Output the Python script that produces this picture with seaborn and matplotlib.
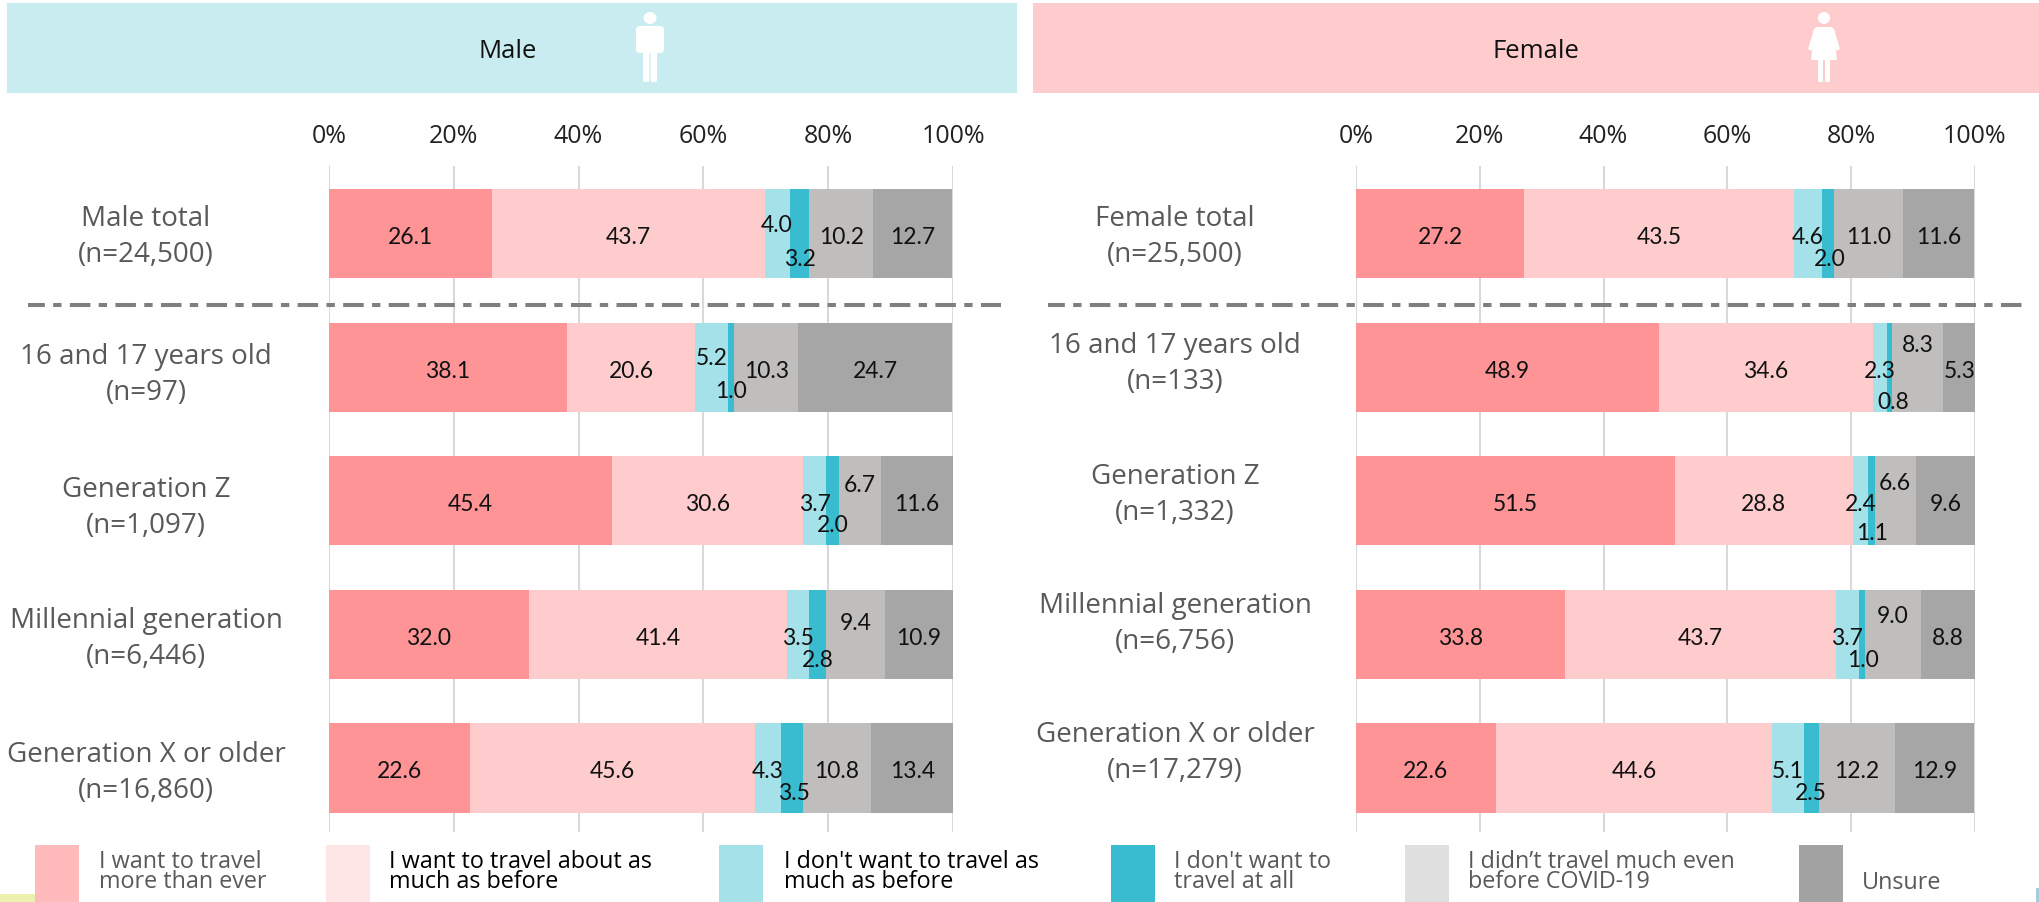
import numpy as np
import pandas as pd
import matplotlib
matplotlib.use("Agg")
import matplotlib.pyplot as plt
import seaborn as sns
from matplotlib.patches import Rectangle, Ellipse, FancyBboxPatch

W, H = 2039, 902

answers = ["I want to travel\nmore than ever", "I want to travel about as\nmuch as before",
           "I don't want to travel as\nmuch as before", "I don't want to\ntravel at all",
           "I didn\u2019t travel much even\nbefore COVID-19", "Unsure"]

male_rows = ["Male total\n(n=24,500)", "16 and 17 years old\n(n=97)", "Generation Z\n(n=1,097)",
             "Millennial generation\n(n=6,446)", "Generation X or older\n(n=16,860)"]
female_rows = ["Female total\n(n=25,500)", "16 and 17 years old\n(n=133)", "Generation Z\n(n=1,332)",
               "Millennial generation\n(n=6,756)", "Generation X or older\n(n=17,279)"]

male_more = [26.1, 38.1, 45.4, 32.0, 22.6]
male_same = [43.7, 20.6, 30.6, 41.4, 45.6]
male_less = [4.0, 5.2, 3.7, 3.5, 4.3]
male_none = [3.2, 1.0, 2.0, 2.8, 3.5]
male_didnt = [10.2, 10.3, 6.7, 9.4, 10.8]
male_unsure = [12.7, 24.7, 11.6, 10.9, 13.4]

female_more = [27.2, 48.9, 51.5, 33.8, 22.6]
female_same = [43.5, 34.6, 28.8, 43.7, 44.6]
female_less = [4.6, 2.3, 2.4, 3.7, 5.1]
female_none = [2.0, 0.8, 1.1, 1.0, 2.5]
female_didnt = [11.0, 8.3, 6.6, 9.0, 12.2]
female_unsure = [11.6, 5.3, 9.6, 8.8, 12.9]

bar_colors = ["#FF9497", "#FFCCCD", "#A5E1E9", "#39BBD0", "#BFBEBD", "#A6A6A6"]
legend_colors = ["#FFBBBB", "#FFE6E6", "#A5E1E9", "#39BBD0", "#DFDFDF", "#A3A3A3"]
legend_text_colors = ["#595959", "#000000", "#000000", "#595959", "#595959", "#595959"]

sns.set_theme(style="white")
plt.rcParams["font.family"] = ["Open Sans", "DejaVu Sans"]

fig = plt.figure(figsize=(W / 100, H / 100), dpi=100)


def px_rect(x0, y0, x1, y1):
    # pixel box (top-left origin) to figure fractions
    return [x0 / W, 1 - y1 / H, (x1 - x0) / W, (y1 - y0) / H]


def fx(x):
    return x / W


def fy(y):
    return 1 - y / H


def draw_panel(ax, rows, series):
    values = np.array(series, dtype=float)
    cumulative = values.cumsum(axis=0)
    # stack by painting the longest cumulative bar first
    for i in range(5, -1, -1):
        df = pd.DataFrame({"row": rows, "value": cumulative[i]})
        sns.barplot(data=df, x="value", y="row", color=bar_colors[i], saturation=1,
                    width=0.667, ax=ax, zorder=3 + (5 - i) * 0.01, linewidth=0)
    ax.set_xlim(0, 100)
    ax.set_ylim(4.479, -0.505)
    ax.set_xlabel("")
    ax.set_ylabel("")
    ax.set_yticks([])
    ax.set_xticks([0, 20, 40, 60, 80, 100])
    ax.set_xticklabels(["0%", "20%", "40%", "60%", "80%", "100%"])
    ax.xaxis.tick_top()
    ax.tick_params(axis="x", length=0, pad=12, labelsize=18, labelcolor="#222222")
    ax.grid(True, axis="x", color="#D9D9D9", linewidth=1.5, zorder=0)
    ax.set_axisbelow(True)
    sns.despine(ax=ax, left=True, right=True, top=True, bottom=True)
    ax.patch.set_alpha(0)
    return values, cumulative


def add_labels(ax, values, cumulative, offsets):
    for i in range(6):
        for r in range(5):
            mid = cumulative[i][r] - values[i][r] / 2
            dy, dx = offsets.get((i, r), (1.5, 0))
            ax.annotate(f"{values[i][r]:.1f}", (mid, r), xytext=(dx, -dy - 2.5), textcoords="offset pixels",
                        ha="center", va="center", fontsize=16.5, color="#111111",
                        family=["Lato", "DejaVu Sans"], zorder=10)


def add_row_labels(rows, x, centers):
    for label, yc in zip(rows, centers):
        fig.text(fx(x), fy(yc + 3), label, ha="center", va="center", fontsize=20,
                 color="#595959", linespacing=1.38)


# header bands
fig.patches.append(Rectangle((fx(7), fy(93)), fx(1010), 90 / H, transform=fig.transFigure, color="#C8ECF0", lw=0))
fig.patches.append(Rectangle((fx(1033), fy(93)), fx(1006), 90 / H, transform=fig.transFigure, color="#FFCCCD", lw=0))
fig.text(fx(508), fy(51), "Male", ha="center", va="center", fontsize=18.5, color="#111111")
fig.text(fx(1536), fy(51), "Female", ha="center", va="center", fontsize=18.5, color="#111111")


# person icons built in pixel coordinates
def px_box(x0, y0, x1, y1, rad=2.0):
    fig.patches.append(FancyBboxPatch((x0, H - y1), x1 - x0, y1 - y0,
                                      boxstyle=f"round,pad=0,rounding_size={rad}",
                                      transform=None, color="white", lw=0))


def px_poly(points):
    fig.patches.append(plt.Polygon([(x, H - y) for x, y in points], transform=None, color="white", lw=0))


def add_male_icon(cx):
    fig.patches.append(Ellipse((cx, H - 18), 13, 12, transform=None, color="white", lw=0))
    px_box(cx - 14, 26, cx + 14, 53, 4)
    px_box(cx - 7, 45, cx - 0.6, 82, 2)
    px_box(cx + 0.6, 45, cx + 7, 82, 2)


def add_female_icon(cx):
    fig.patches.append(Ellipse((cx, H - 18), 12, 12, transform=None, color="white", lw=0))
    px_box(cx - 10, 27, cx + 10, 36, 4)
    px_poly([(cx - 9, 30), (cx + 9, 30), (cx + 13, 60), (cx - 13, 60)])
    px_poly([(cx - 10, 29), (cx - 6, 32), (cx - 12, 51), (cx - 16, 49)])
    px_poly([(cx + 10, 29), (cx + 6, 32), (cx + 12, 51), (cx + 16, 49)])
    px_box(cx - 6, 58, cx - 1, 82, 1.5)
    px_box(cx + 1, 58, cx + 6, 82, 1.5)


add_male_icon(650)
add_female_icon(1824)

male_ax = fig.add_axes(px_rect(329, 166, 953, 832))
female_ax = fig.add_axes(px_rect(1356, 166, 1975, 832))

male_series = [male_more, male_same, male_less, male_none, male_didnt, male_unsure]
female_series = [female_more, female_same, female_less, female_none, female_didnt, female_unsure]

mv, mc = draw_panel(male_ax, male_rows, male_series)
fv, fc = draw_panel(female_ax, female_rows, female_series)

# crowded labels get nudged up or down, (series, row): (pixels down, pixels right)
male_nudge = {(2, 0): (-10, 0), (3, 0): (24, 0), (2, 1): (-11, 0), (3, 1): (21.5, 0),
              (3, 2): (22, 0), (4, 2): (-18, 0), (3, 3): (24, 0), (4, 3): (-13, 0),
              (3, 4): (23, 2)}
female_nudge = {(3, 0): (24, 1), (3, 1): (32.5, 4), (4, 1): (-24, 0),
                (3, 2): (30.5, 1), (4, 2): (-20, 0), (3, 3): (24, 1),
                (4, 3): (-20.5, 0), (3, 4): (23, 0)}
add_labels(male_ax, mv, mc, male_nudge)
add_labels(female_ax, fv, fc, female_nudge)

add_row_labels(male_rows, 146, [234, 372, 505, 636, 770])
add_row_labels(female_rows, 1175, [234, 361, 492, 621, 750])

# dash-dot separators
dash_style = (0.92, (5.1, 2.07, 2.07, 2.07))
fig.add_artist(plt.Line2D([fx(28), fx(1001)], [fy(305), fy(305)], color="#7F7F7F", lw=2.9, linestyle=dash_style))
fig.add_artist(plt.Line2D([fx(1048), fx(2028)], [fy(305), fy(305)], color="#7F7F7F", lw=2.9, linestyle=dash_style))

# legend row
swatch_x = [35, 326, 719, 1111, 1405, 1799]
text_x = [99, 389, 784, 1174, 1468, 1862]
text_y = [872, 872, 872, 872, 872, 883]
for i in range(6):
    fig.patches.append(Rectangle((fx(swatch_x[i]), fy(902)), 44 / W, 57 / H, transform=fig.transFigure,
                                 color=legend_colors[i], lw=0))
    fig.text(fx(text_x[i]), fy(text_y[i]), answers[i], ha="left", va="center", fontsize=16.8,
             color=legend_text_colors[i], linespacing=0.78)

# slivers of neighbouring graphics at the bottom corners
fig.patches.append(Rectangle((0, 0), 35 / W, 8 / H, transform=fig.transFigure, color="#EEF0AE", lw=0))
fig.patches.append(Rectangle((fx(2036), 0), 3 / W, 14 / H, transform=fig.transFigure, color="#A5CDD9", lw=0))

fig.savefig("out.png", dpi=100, facecolor="white")
